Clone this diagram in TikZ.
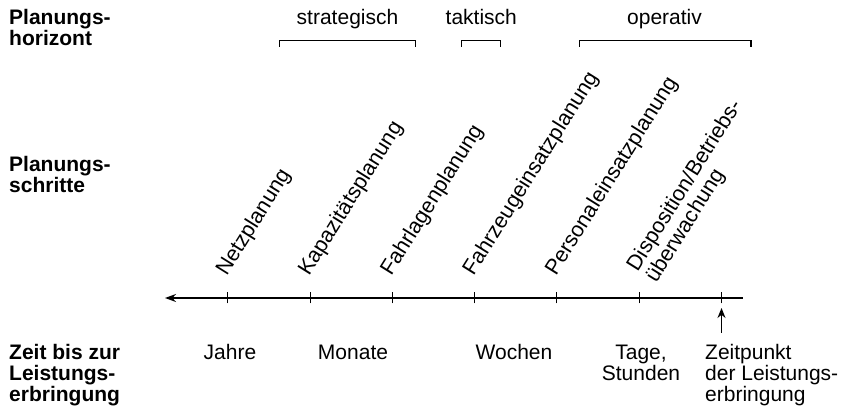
\documentclass[tikz,border=0pt]{standalone}
\usepackage{fontspec}
\setmainfont{Liberation Sans}
\usetikzlibrary{arrows.meta}
\begin{document}
\begin{tikzpicture}[x=1pt,y=1pt,
  font=\fontsize{21}{21}\selectfont,
  every node/.style={inner sep=0pt},
  titel/.style={anchor=base west, align=left, font=\fontsize{21}{21}\selectfont\bfseries},
  schritt/.style={anchor=base west, align=left, rotate=58, font=\fontsize{21.5}{22}\selectfont},
  zeit/.style={anchor=base, align=center},
  klammer/.style={line width=1.2pt}]
  \useasboundingbox (0,0) rectangle (841,407);
  % Zeitachse
  \coordinate (A) at (165,109);
  \coordinate (E) at (742.7,109);
  \draw[line width=1.3pt, -{Stealth[length=11pt,width=8pt]}] (E) -- (A);
  \foreach \i in {0,...,6}{
    \coordinate (T\i) at (227.7+82.3*\i,109);
    \draw[line width=1pt] ([yshift=-5.5pt]T\i) -- ([yshift=5.5pt]T\i);
  }
  % Titel links (Grundlinie der letzten Zeile)
  \node[titel] (horizont) at (9,361) {Planungs-\\horizont};
  \node[titel] (schritte) at (9,214.3) {Planungs-\\schritte};
  \node[titel] (zeit) at (9,5.7) {Zeit bis zur\\Leistungs-\\erbringung};
  % Planungshorizont
  \node[zeit] (strat) at (347.5,382) {strategisch};
  \coordinate (s1) at (279.3,360.3);
  \coordinate (s2) at (415.7,360.3);
  \draw[klammer] (s1) -- ++(0,6) -| (s2);
  \node[zeit] (takt) at (481.3,382) {taktisch};
  \coordinate (t1) at (461.7,360.3);
  \coordinate (t2) at (500.7,360.3);
  \draw[klammer] (t1) -- ++(0,6) -| (t2);
  \node[zeit] (oper) at (664.5,382) {operativ};
  \coordinate (o1) at (579.3,360.3);
  \coordinate (o2) at (751,360.3);
  \draw[klammer] (o1) -- ++(0,6) -| (o2);
  % Planungsschritte
  \node[schritt] (netz) at ([xshift=-1pt,yshift=21pt]T0) {Netzplanung};
  \node[schritt] (kapa) at ([xshift=-1pt,yshift=21pt]T1) {Kapazitätsplanung};
  \node[schritt] (fahrlage) at ([xshift=-1pt,yshift=21pt]T2) {Fahrlagenplanung};
  \node[schritt] (fahrzeug) at ([xshift=-1pt,yshift=21pt]T3) {Fahrzeugeinsatzplanung};
  \node[schritt] (personal) at ([xshift=-1pt,yshift=21pt]T4) {Personaleinsatzplanung};
  \node[schritt] (dispo) at ([xshift=17pt,yshift=14pt]T5) {Disposition/Betriebs-\\überwachung};
  % Zeit bis zur Leistungserbringung
  \node[zeit] (jahre) at (230,47.7) {Jahre};
  \node[zeit] (monate) at (353,47.7) {Monate};
  \node[zeit] (wochen) at (514,47.7) {Wochen};
  \node[zeit] (tage) at (641,26.7) {Tage,\\Stunden};
  \node[anchor=base west, align=left] (zp) at (705,5.7) {Zeitpunkt\\der Leistungs-\\erbringung};
  \coordinate (Z) at (721.5,74);
  \draw[line width=1.2pt, -{Stealth[length=10pt,width=8pt]}] (Z) -- ([yshift=-10pt]T6);
\end{tikzpicture}
\end{document}
